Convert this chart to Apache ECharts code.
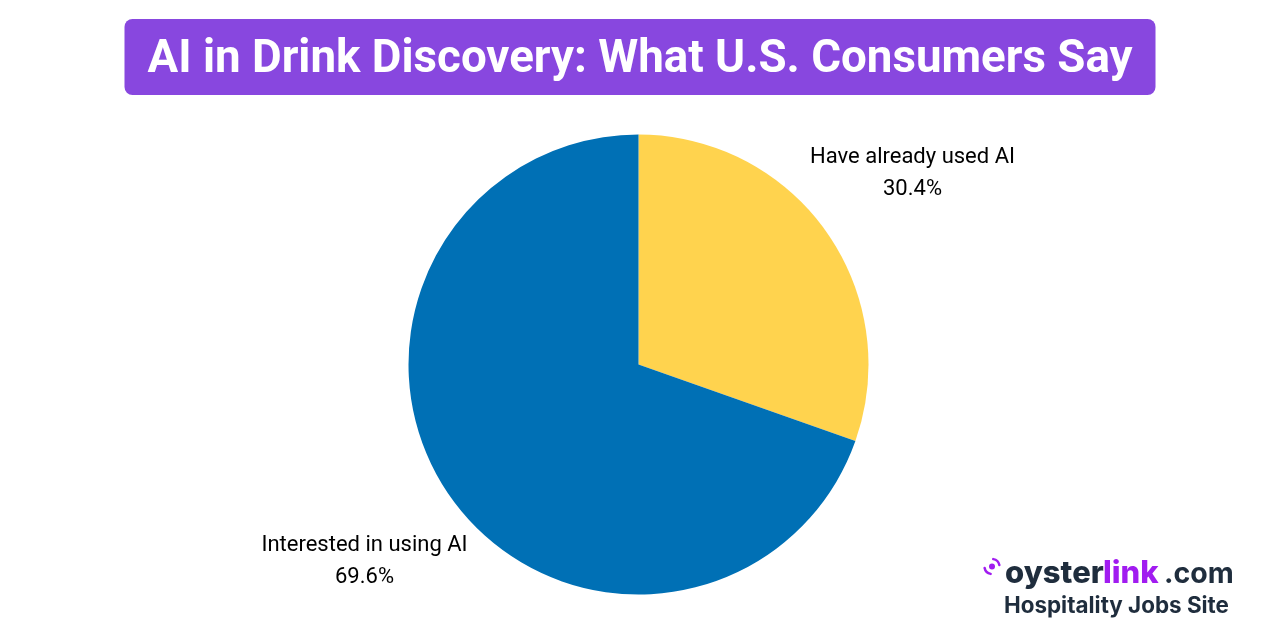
<!DOCTYPE html>
<html>
<head>
<meta charset="utf-8">
<style>html,body{margin:0;padding:0;background:#fff}#chart{width:1280px;height:640px}</style>
<script src="https://cdn.jsdelivr.net/npm/echarts@6/dist/echarts.min.js"></script>
</head>
<body>
<div id="chart"></div>
<script>
// pie data
const categories = ['Have already used AI', 'Interested in using AI'];
const values = [30.4, 69.6];
const colors = ['#FFD34E', '#0070B5'];
const titleText = 'AI in Drink Discovery: What U.S. Consumers Say';

const labelPos = [
  {x: 912.5, y: 173},
  {x: 364.5, y: 561}
];
const purple = '#A11CF0', dark = '#1F2D3D';

const chart = echarts.init(document.getElementById('chart'));
chart.setOption({
  animation: false,
  backgroundColor: '#fff',
  graphic: [
    {type: 'rect', shape: {x: 124.5, y: 19, width: 1031, height: 76, r: 8}, style: {fill: '#8847DF'}},
    {type: 'text', x: 640, y: 61, style: {text: titleText, fill: '#fff', font: '700 45.7px Roboto', align: 'center', verticalAlign: 'middle'}},
    // logo
    {type: 'text', x: 1005, y: 574, style: {text: 'oyster', fill: dark, font: '800 31px Inter', align: 'left', verticalAlign: 'middle'}},
    {type: 'text', x: 1103, y: 574, style: {text: 'link', fill: purple, font: '800 31px Inter', align: 'left', verticalAlign: 'middle'}},
    {type: 'text', x: 1164, y: 574, style: {text: '.com', fill: dark, font: '700 28.5px Inter', align: 'left', verticalAlign: 'middle'}},
    {type: 'text', x: 1004, y: 606, style: {text: 'Hospitality Jobs Site', fill: dark, font: '700 22.4px Inter', align: 'left', verticalAlign: 'middle'}},
    {type: 'circle', shape: {cx: 992, cy: 566.5, r: 3}, style: {fill: purple}},
    {type: 'arc', shape: {cx: 992, cy: 566.5, r: 7.5, startAngle: -1.4, endAngle: -0.2}, style: {stroke: purple, lineWidth: 2.5, fill: null, lineCap: 'round'}},
    {type: 'arc', shape: {cx: 992, cy: 566.5, r: 7.5, startAngle: 1.75, endAngle: 2.95}, style: {stroke: purple, lineWidth: 2.5, fill: null, lineCap: 'round'}}
  ],
  series: [{
    type: 'pie',
    center: [638.5, 364.5],
    radius: [0, 230],
    startAngle: 90,
    clockwise: true,
    silent: true,
    label: {
      show: true,
      formatter: '{b}\n{c}%',
      color: '#000',
      fontFamily: 'Roboto',
      fontSize: 22,
      lineHeight: 32,
      align: 'center'
    },
    labelLine: {show: false},
    labelLayout: params => ({x: labelPos[params.dataIndex].x, y: labelPos[params.dataIndex].y, align: 'center', verticalAlign: 'middle'}),
    data: categories.map((c, i) => ({name: c, value: values[i], itemStyle: {color: colors[i]}}))
  }]
});
</script>
</body>
</html>
